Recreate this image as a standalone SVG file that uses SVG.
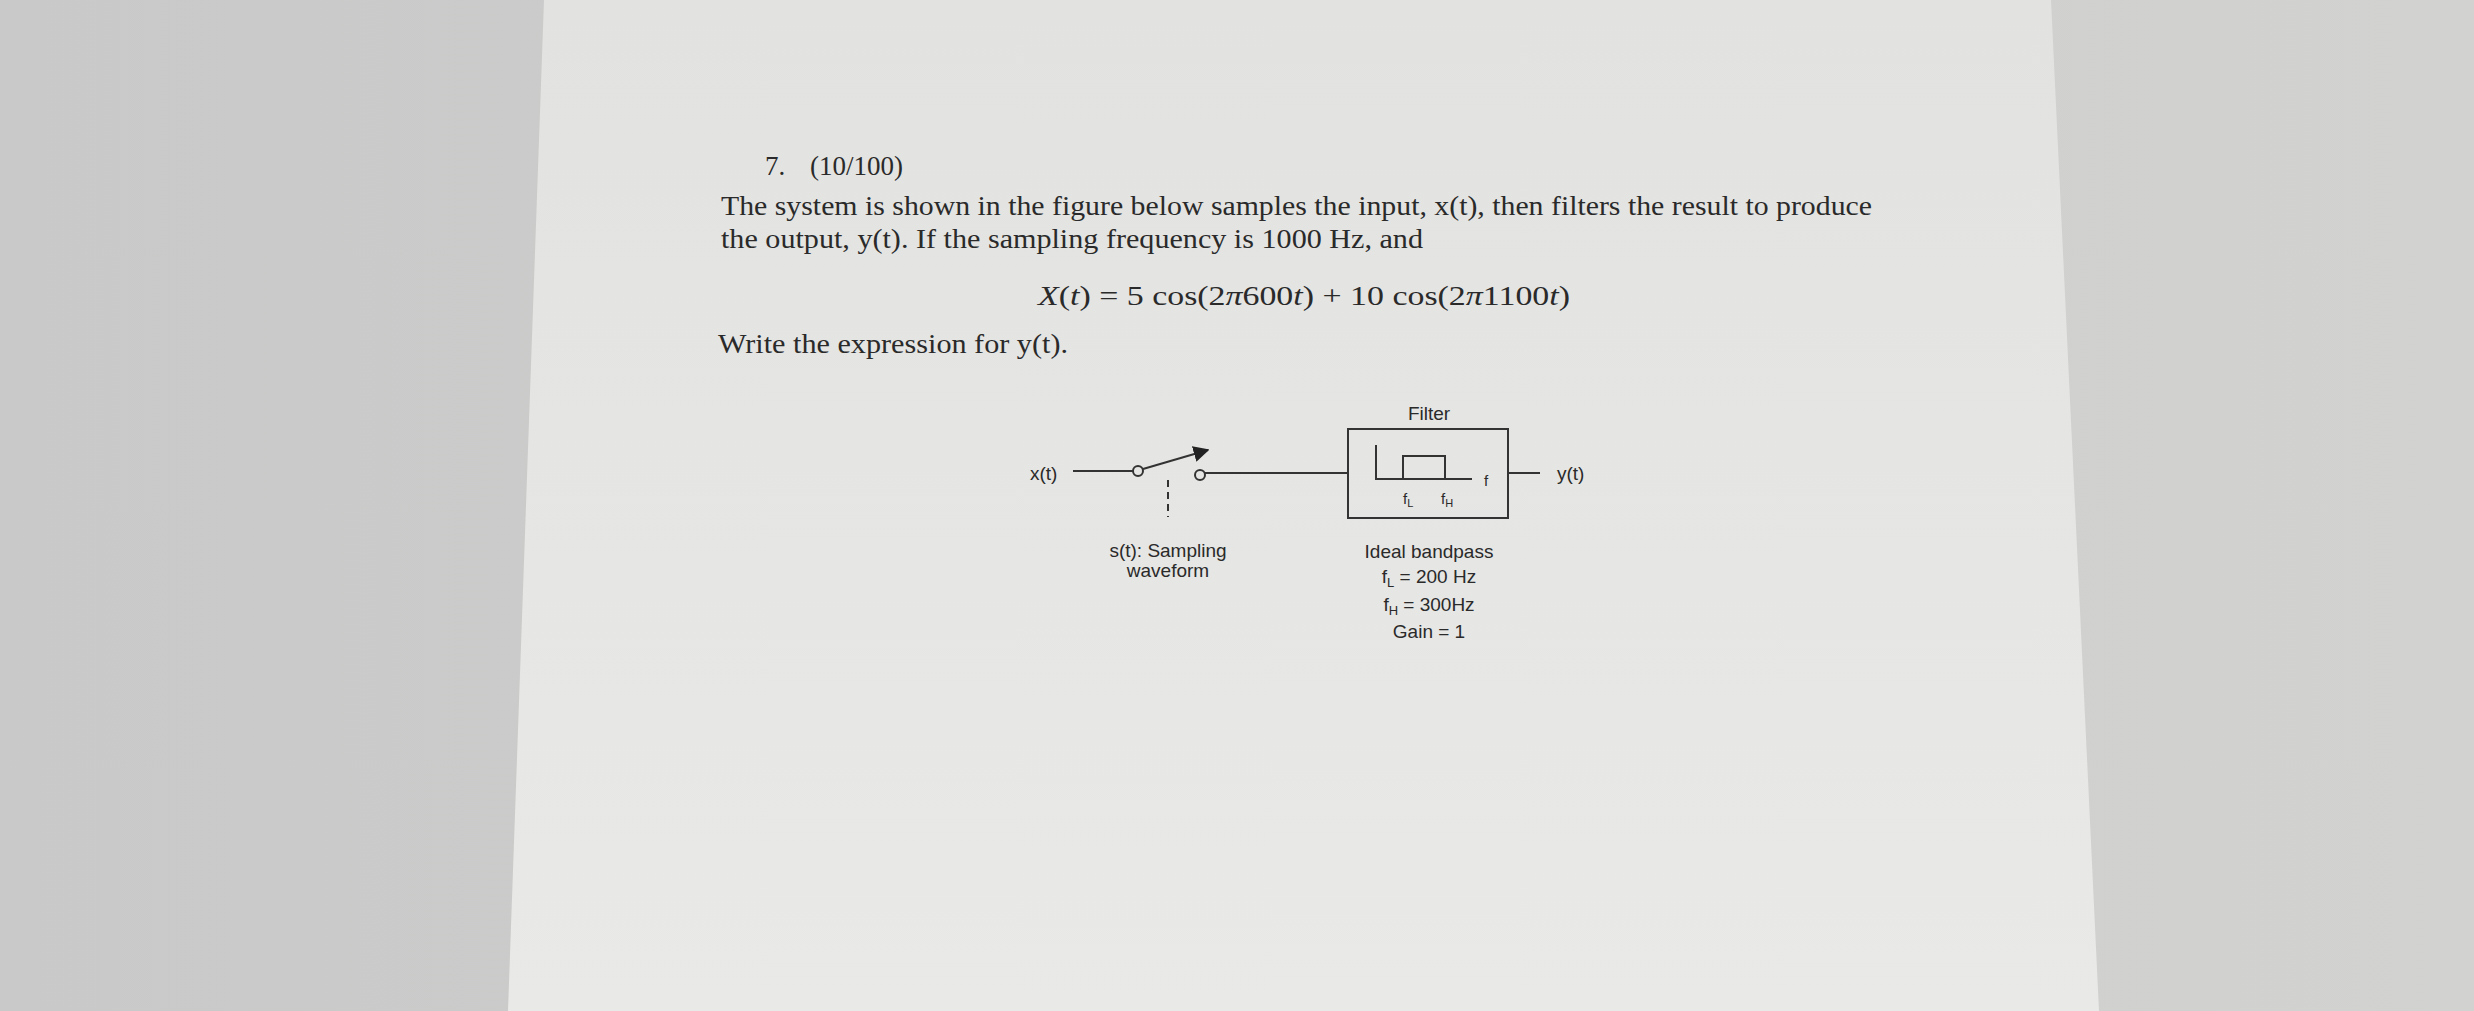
<svg xmlns="http://www.w3.org/2000/svg" width="2474" height="1011" viewBox="0 0 2474 1011">
<defs>
<linearGradient id="bg" x1="0" x2="1" y1="0" y2="0"><stop offset="0" stop-color="#c9c9c9"/><stop offset="1" stop-color="#d2d2d0"/></linearGradient>
<linearGradient id="pp" x1="0" x2="0" y1="0" y2="1"><stop offset="0" stop-color="#e2e2e0"/><stop offset="1" stop-color="#e9e9e7"/></linearGradient>
<marker id="ah" viewBox="0 0 10 10" refX="9" refY="5" markerWidth="8" markerHeight="8" orient="auto"><path d="M0,0 L10,5 L0,10 z" fill="#222"/></marker>
</defs>
<style>
.s{font-family:"Liberation Serif",serif;font-size:27px;fill:#2a2a2a}
.d{font-family:"Liberation Sans",Arial,sans-serif;font-size:19px;fill:#2a2a2a}
.sm{font-family:"Liberation Sans",Arial,sans-serif;font-size:15px;fill:#2a2a2a}
.ln{stroke:#333;stroke-width:2;fill:none}
</style>
<rect width="2474" height="1011" fill="url(#bg)"/>
<polygon points="544,0 2051,0 2099,1011 508,1011" fill="url(#pp)"/>
<text class="s" x="765" y="175">7.<tspan x="810">(10/100)</tspan></text>
<text class="s" x="721" y="215" textLength="1151" lengthAdjust="spacingAndGlyphs">The system is shown in the figure below samples the input, x(t), then filters the result to produce</text>
<text class="s" x="721" y="248" textLength="702" lengthAdjust="spacingAndGlyphs">the output, y(t). If the sampling frequency is 1000 Hz, and</text>
<text class="s" x="1038" y="305" textLength="532" lengthAdjust="spacingAndGlyphs"><tspan font-style="italic">X</tspan>(<tspan font-style="italic">t</tspan>) = 5 cos(2<tspan font-style="italic">π</tspan>600<tspan font-style="italic">t</tspan>) + 10 cos(2<tspan font-style="italic">π</tspan>1100<tspan font-style="italic">t</tspan>)</text>
<text class="s" x="718" y="353" textLength="350" lengthAdjust="spacingAndGlyphs">Write the expression for y(t).</text>
<g id="connectors">
<line class="ln" x1="1073" y1="471" x2="1133" y2="471"/>
<line class="ln" x1="1205" y1="473" x2="1348" y2="473"/>
<line class="ln" x1="1508" y1="473" x2="1540" y2="473"/>
<line class="ln" x1="1168" y1="480" x2="1168" y2="517" stroke-dasharray="7,5"/>
</g>
<g id="input"><text class="d" x="1030" y="480">x(t)</text></g>
<g id="switch">
<circle class="ln" cx="1138" cy="471" r="5" fill="#e4e4e2"/>
<circle class="ln" cx="1200" cy="475" r="5" fill="#e4e4e2"/>
<line class="ln" x1="1143" y1="469" x2="1208" y2="450" marker-end="url(#ah)"/>
</g>
<g id="sampling"><text class="d" x="1168" y="557" text-anchor="middle">s(t): Sampling</text><text class="d" x="1168" y="577" text-anchor="middle">waveform</text></g>
<g id="filter">
<text class="d" x="1429" y="420" text-anchor="middle">Filter</text>
<rect class="ln" x="1348" y="429" width="160" height="89"/>
<polyline class="ln" points="1376,445 1376,479 1472,479"/>
<polyline class="ln" points="1403,479 1403,456 1445,456 1445,479"/>
<text class="sm" x="1484" y="486">f</text>
<text class="sm" x="1403" y="504">f<tspan font-size="11" dy="3">L</tspan></text>
<text class="sm" x="1441" y="504">f<tspan font-size="11" dy="3">H</tspan></text>
</g>
<g id="filterspec">
<text class="d" x="1429" y="558" text-anchor="middle">Ideal bandpass</text>
<text class="d" x="1429" y="583" text-anchor="middle">f<tspan font-size="13" dy="4">L</tspan><tspan dy="-4"> = 200 Hz</tspan></text>
<text class="d" x="1429" y="611" text-anchor="middle">f<tspan font-size="13" dy="4">H</tspan><tspan dy="-4"> = 300Hz</tspan></text>
<text class="d" x="1429" y="638" text-anchor="middle">Gain = 1</text>
</g>
<g id="output"><text class="d" x="1557" y="480">y(t)</text></g>
</svg>
